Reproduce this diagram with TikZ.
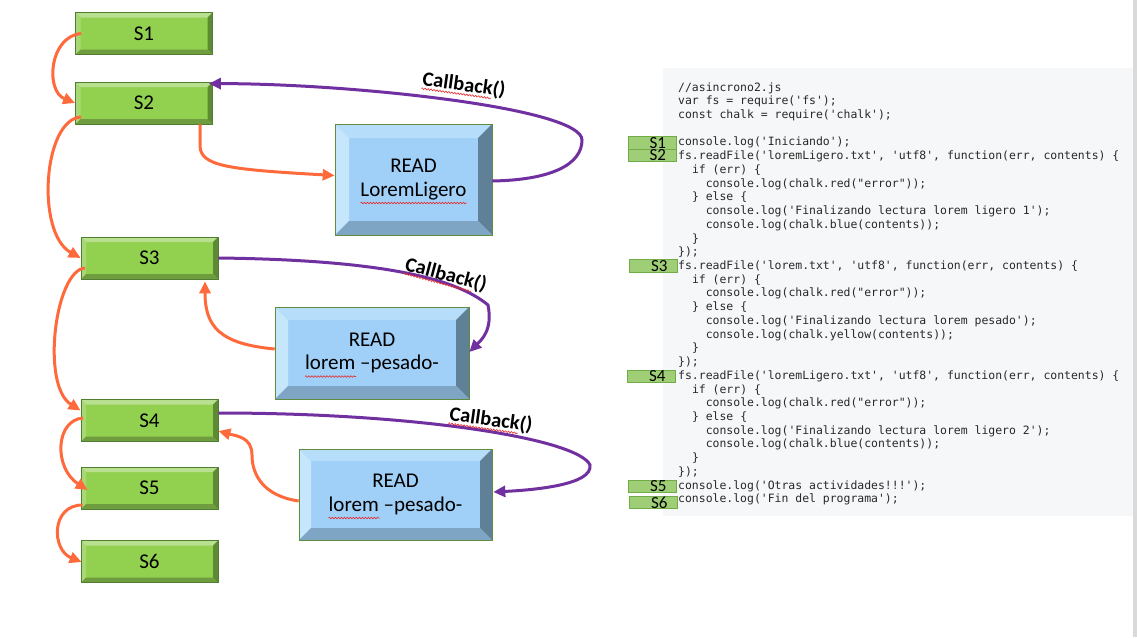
\documentclass[tikz,border=0pt]{standalone}
\usepackage{fontspec}
\setmainfont{Carlito}
\newfontfamily\codefont{DejaVu Sans Mono}
\usetikzlibrary{arrows.meta,calc,decorations.pathmorphing}
\definecolor{gC}{RGB}{146,208,80}
\definecolor{gT}{RGB}{184,224,143}
\definecolor{gL}{RGB}{168,216,118}
\definecolor{gR}{RGB}{94,138,52}
\definecolor{gB}{RGB}{112,156,64}
\definecolor{gE}{RGB}{80,126,50}
\definecolor{bC}{RGB}{160,208,247}
\definecolor{bT}{RGB}{182,221,250}
\definecolor{bL}{RGB}{198,230,252}
\definecolor{bR}{RGB}{96,128,152}
\definecolor{bB}{RGB}{127,165,196}
\definecolor{bE}{RGB}{96,140,62}
\definecolor{orng}{RGB}{255,106,60}
\definecolor{purp}{RGB}{112,48,160}
\definecolor{panel}{RGB}{246,247,248}
\definecolor{codec}{RGB}{40,40,40}
\definecolor{mkC}{RGB}{160,206,118}
\definecolor{mkE}{RGB}{112,173,71}
\definecolor{spellred}{RGB}{230,40,40}
\definecolor{edgegray}{RGB}{218,218,218}
\newcommand\bevelpic[6]{%
  \path (path picture bounding box.north west) coordinate (pnw)
        (path picture bounding box.north east) coordinate (pne)
        (path picture bounding box.south east) coordinate (pse)
        (path picture bounding box.south west) coordinate (psw);
  \fill[#6] (pnw) rectangle (pse);
  \fill[#2] (pnw) -- (pne) -- ([shift={(-#1,-#1)}]pne) -- ([shift={(#1,-#1)}]pnw) -- cycle;
  \fill[#3] (pnw) -- ([shift={(#1,-#1)}]pnw) -- ([shift={(#1,#1)}]psw) -- (psw) -- cycle;
  \fill[#4] (pne) -- (pse) -- ([shift={(-#1,#1)}]pse) -- ([shift={(-#1,-#1)}]pne) -- cycle;
  \fill[#5] (psw) -- ([shift={(#1,#1)}]psw) -- ([shift={(-#1,#1)}]pse) -- (pse) -- cycle;
}
\newcommand\cl[3]{\node[code] (c#1) at ({678+6.9*#2},{91+13.73*#1}) {#3};}
\tikzset{
  sbox/.style={draw=gE, line width=0.8pt, minimum width=137pt, minimum height=42pt,
    inner sep=0pt, font=\fontsize{21}{24}\selectfont,
    path picture={\bevelpic{5pt}{gT}{gL}{gR}{gB}{gC}}},
  rbox/.style={draw=bE, line width=0.6pt, inner sep=0pt, align=center,
    font=\fontsize{21}{23.5}\selectfont,
    path picture={\bevelpic{#1}{bT}{bL}{bR}{bB}{bC}}},
  rbox/.default=13pt,
  oarr/.style={draw=orng, line width=3pt, -{Triangle[length=12pt,width=11pt]}},
  parr/.style={draw=purp, line width=3pt, -{Triangle[length=12pt,width=11pt]}},
  cbl/.style={font=\bfseries\fontsize{20.5}{22}\selectfont, inner sep=0pt},
  code/.style={anchor=base west, inner sep=0pt, text=codec,
    font=\codefont\fontsize{11.45}{13}\selectfont},
  mk/.style={draw=mkE, fill=mkC, line width=0.6pt, inner sep=0pt,
    minimum width=48pt, minimum height=12.5pt},
  mkt/.style={anchor=east, inner sep=0pt, font=\fontsize{17}{17}\selectfont},
  wave/.style={draw=spellred, line width=0.6pt, decorate,
    decoration={snake, amplitude=0.8pt, segment length=3pt}},
}
\begin{document}
\begin{tikzpicture}[x=1pt,y=-1pt]
\useasboundingbox[fill=white] (0,0) rectangle (1137,637);
% code panel
\fill[panel] (663,68) rectangle (1133,516);
\fill[edgegray] (1133,0) rectangle (1137,637);
\cl{0}{0}{//asincrono2.js}
\cl{1}{0}{var fs = require('fs');}
\cl{2}{0}{const chalk = require('chalk');}
\cl{4}{0}{console.log('Iniciando');}
\cl{5}{0}{fs.readFile('loremLigero.txt', 'utf8', function(err, contents) \{}
\cl{6}{2}{if (err) \{}
\cl{7}{4}{console.log(chalk.red("error"));}
\cl{8}{2}{\} else \{}
\cl{9}{4}{console.log('Finalizando lectura lorem ligero 1');}
\cl{10}{4}{console.log(chalk.blue(contents));}
\cl{11}{2}{\}}
\cl{12}{0}{\});}
\cl{13}{0}{fs.readFile('lorem.txt', 'utf8', function(err, contents) \{}
\cl{14}{2}{if (err) \{}
\cl{15}{4}{console.log(chalk.red("error"));}
\cl{16}{2}{\} else \{}
\cl{17}{4}{console.log('Finalizando lectura lorem pesado');}
\cl{18}{4}{console.log(chalk.yellow(contents));}
\cl{19}{2}{\}}
\cl{20}{0}{\});}
\cl{21}{0}{fs.readFile('loremLigero.txt', 'utf8', function(err, contents) \{}
\cl{22}{2}{if (err) \{}
\cl{23}{4}{console.log(chalk.red("error"));}
\cl{24}{2}{\} else \{}
\cl{25}{4}{console.log('Finalizando lectura lorem ligero 2');}
\cl{26}{4}{console.log(chalk.blue(contents));}
\cl{27}{2}{\}}
\cl{28}{0}{\});}
\cl{29}{0}{console.log('Otras actividades!!!');}
\cl{30}{0}{console.log('Fin del programa');}
% markers
\node[mk] (m1) at (652,143) {};
\node[mk] (m2) at (652,155.5) {};
\node[mk] (m3) at (653.5,266) {};
\node[mk] (m4) at (651.5,376.5) {};
\node[mk] (m5) at (652.5,486.5) {};
\node[mk] (m6) at (653.5,502.5) {};
\node[mkt] (t1) at ([xshift=-10pt]m1.east) {S1};
\node[mkt] (t2) at ([xshift=-10pt]m2.east) {S2};
\node[mkt] (t3) at ([xshift=-10pt]m3.east) {S3};
\node[mkt] (t4) at ([xshift=-10pt]m4.east) {S4};
\node[mkt] (t5) at ([xshift=-10pt]m5.east) {S5};
\node[mkt] (t6) at ([xshift=-10pt]m6.east) {S6};
% step boxes
\node[sbox] (s1) at (144,33.5) {S1};
\node[sbox] (s2) at (144,103) {S2};
\node[sbox] (s3) at (149.5,258) {S3};
\node[sbox] (s4) at (149.5,420.5) {S4};
\node[sbox] (s5) at (149.5,488) {S5};
\node[sbox] (s6) at (149.5,561.5) {S6};
% read boxes
\node[rbox=14pt, minimum width=157pt, minimum height=111pt] (r1) at (413.5,179.5) {READ\\LoremLigero};
\node[rbox=13pt, minimum width=194pt, minimum height=92pt] (r2) at (372,353) {READ\\lorem –pesado-};
\node[rbox=12pt, minimum width=193pt, minimum height=91pt] (r3) at (395.5,494.5) {READ\\lorem –pesado-};
% spelling underlines
\draw[wave] ($(r1.center)+(-53,23.5)$) -- ($(r1.center)+(53,23.5)$);
\draw[wave] ($(r2.center)+(-67,23.5)$) -- ($(r2.center)+(-16,23.5)$);
\draw[wave] ($(r3.center)+(-67,23.5)$) -- ($(r3.center)+(-16,23.5)$);
% orange connectors
\draw[oarr] ($(s1.west)+(6,0)$) .. controls +(-32,3) and +(-30,-12) .. (s2.west);
\draw[oarr] ($(s2.west)+(6,14)$) .. controls +(-38,2) and +(-45,-25) .. (s3.west);
\draw[oarr] ($(s2.south)+(56,0)$) -- ++(0,22) .. controls +(1,20) and +(-105,-6) .. ($(r1.west)+(0,-4)$);
\draw[oarr] ($(s3.west)+(4.5,10)$) .. controls +(-30,2) and +(-40,-25) .. ($(s4.west)+(0,-10)$);
\draw[oarr] ($(r2.west)+(0,-4)$) .. controls +(-55,-5) and +(0,45) .. ($(s3.south)+(55.5,2)$);
\draw[oarr] ($(s4.west)+(2.5,-2.5)$) .. controls +(-28,2) and +(-34,-22) .. ($(s5.west)+(7,2)$);
\draw[oarr] ($(r3.west)+(0,6.5)$) .. controls +(-35,-5) and +(0,20) .. (252,455) .. controls +(0,-18) and +(18,5) .. ($(s4.east)+(0,10.5)$);
\draw[oarr] ($(s5.west)+(2,17)$) .. controls +(-32,0) and +(-30,-12) .. ($(s6.west)+(1,0.5)$);
% purple callbacks
\draw[parr] ($(r1.east)+(0,1.5)$) .. controls +(58,-1) and +(0,25) .. (582,140) .. controls +(0,-32) and +(142,0) .. ($(s2.north east)+(-4,2)$);
\draw[parr] (s3.east) .. controls +(170,2) and +(-30,-25) .. (488,305) .. controls +(5,25) and +(12,-12) .. ($(r2.east)+(0,-1)$);
\draw[parr] ($(s4.east)+(0,-7.5)$) .. controls +(200,0) and +(-12,-26) .. (590,465) .. controls +(3,20) and +(40,-2) .. ($(r3.east)+(1,-2.5)$);
% labels
\node[cbl, rotate=-8] (cb1) at (464,85) {Callback()};
\node[cbl, rotate=-15] (cb2) at (446,275) {Callback()};
\node[cbl, rotate=-8] (cb3) at (491,420) {Callback()};
\draw[wave] (cb1.south west) -- ($(cb1.south west)!0.84!(cb1.south east)$);
\draw[wave] (cb2.south west) -- ($(cb2.south west)!0.84!(cb2.south east)$);
\draw[wave] (cb3.south west) -- ($(cb3.south west)!0.84!(cb3.south east)$);
\end{tikzpicture}
\end{document}
